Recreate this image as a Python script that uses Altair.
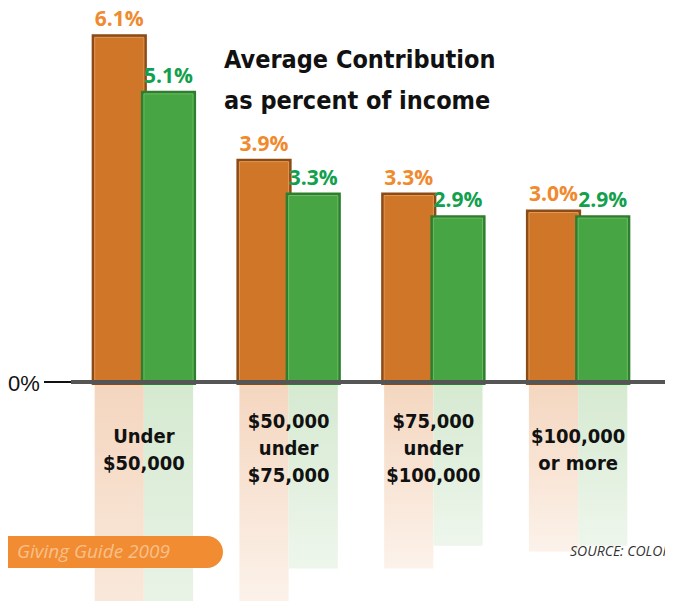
import altair as alt
import pandas as pd

# ---- data ----
categories = ["Under\n$50,000", "$50,000\nunder\n$75,000", "$75,000\nunder\n$100,000", "$100,000\nor more"]
series = ["Series A", "Series B"]
values_a = [6.1, 3.9, 3.3, 3.0]
values_b = [5.1, 3.3, 2.9, 2.9]
title_lines = ["Average Contribution", "as percent of income"]
y_tick_labels = ["0%"]
banner_text = ["Giving Guide 2009"]
source_text = ["SOURCE: COLORADO NONPROFIT ASSOCIATION"]

rows = []
for s, vals in zip(series, [values_a, values_b]):
    for c, v in zip(categories, vals):
        rows.append({"category": c, "series": s, "value": v, "neg": -v,
                     "label": f"{v:.1f}%"})
df = pd.DataFrame(rows)

W, H = 657, 593
xs = alt.X("category:N", sort=categories, axis=None,
           scale=alt.Scale(domain=categories, range=[63.5, 642.5],
                           paddingInner=0.32, paddingOuter=0.16))
xo = alt.XOffset("series:N", sort=series,
                 scale=alt.Scale(domain=series, paddingInner=0, paddingOuter=0))
yscale = alt.Scale(domain=[-3.876, 6.619], nice=False, zero=False)

styles = {
    "Series A": dict(main="#D07628", dark="#8C4A15", edge="#E39A55",
                     text="#F08A2E", r0="#F4D6BF", r1="#FCF2EA"),
    "Series B": dict(main="#47A543", dark="#2E7E30", edge="#6DBE63",
                     text="#12A04C", r0="#D5E9D0", r1="#EEF6EC"),
}

layers = []
for s in series:
    st = styles[s]
    base = alt.Chart(df).transform_filter(alt.datum.series == s)
    yv = alt.Y("value:Q", scale=yscale, axis=None)
    yn = alt.Y("neg:Q", scale=yscale, axis=None)
    # reflection (fading)
    layers.append(base.mark_bar(color=alt.Gradient(
        gradient="linear", x1=0, y1=0, x2=0, y2=1,
        stops=[alt.GradientStop(color=st["r0"], offset=0),
               alt.GradientStop(color=st["r1"], offset=1)])).encode(
        x=xs, xOffset=xo, y=yn, y2=alt.datum(0)))
    # 3D shadow edge
    layers.append(base.mark_bar(color=st["dark"], stroke=st["dark"], strokeWidth=6).encode(
        x=xs, xOffset=xo, y=yv, y2=alt.datum(0)))
    # main bar
    layers.append(base.mark_bar(color=st["main"], stroke=st["edge"], strokeWidth=1).encode(
        x=xs, xOffset=xo, y=yv, y2=alt.datum(0)))
    # value labels
    layers.append(base.mark_text(dy=-11, baseline="alphabetic", align="center",
                                 font="Open Sans", fontWeight="bold", fontSize=21,
                                 color=st["text"]).encode(
        x=xs, xOffset=xo, y=yv, text="label:N"))

# baseline axis line
axis_df = pd.DataFrame({"t": y_tick_labels})
layers.append(alt.Chart(axis_df).mark_rule(color="#111111", strokeWidth=2).encode(
    x=alt.value(36), x2=alt.value(64), y=alt.datum(0)))
layers.append(alt.Chart(axis_df).mark_rule(color="#555555", strokeWidth=4).encode(
    x=alt.value(63), x2=alt.value(700), y=alt.datum(0)))
layers.append(alt.Chart(axis_df).mark_text(align="left", baseline="middle", dy=2,
                                           font="Liberation Sans", fontSize=22,
                                           color="#111111").encode(
    x=alt.value(0), y=alt.Y(datum=0, scale=yscale), text="t:N"))

# category labels (first line positioned so each block is centred)
cat_df = pd.DataFrame({"category": categories})
cat_font = dict(baseline="middle", align="center", lineBreak="\n", lineHeight=27,
                font="DejaVu Sans Condensed, Liberation Sans Narrow, DejaVu Sans",
                fontWeight="bold", fontSize=20, color="#111111")
cat_base = alt.Chart(cat_df).transform_calculate(
    nl="length(split(datum.category, '\\n'))")
layers.append(cat_base.transform_filter("datum.nl == 2").mark_text(**cat_font).encode(
    x=xs, y=alt.value(429), text="category:N"))
layers.append(cat_base.transform_filter("datum.nl == 3").mark_text(**cat_font).encode(
    x=xs, y=alt.value(414), text="category:N"))

# title
title_df = pd.DataFrame({"t": ["\n".join(title_lines)]})
layers.append(alt.Chart(title_df).mark_text(
    align="left", baseline="middle", lineBreak="\n", lineHeight=41,
    font="DejaVu Sans Condensed, Liberation Sans Narrow, DejaVu Sans",
    fontWeight="bold", fontSize=25, color="#111111").encode(
    x=alt.value(216), y=alt.value(52), text="t:N"))

# banner
ban_df = pd.DataFrame({"t": banner_text})
layers.append(alt.Chart(ban_df).mark_rect(color="#F28C32", cornerRadius=16).encode(
    x=alt.value(-40), x2=alt.value(215), y=alt.value(528), y2=alt.value(560)))
layers.append(alt.Chart(ban_df).mark_text(
    align="left", baseline="middle", font="Open Sans", fontStyle="italic",
    fontSize=19, color="#F9C08A").encode(
    x=alt.value(9), y=alt.value(544), text="t:N"))
src_df = pd.DataFrame({"t": source_text})
layers.append(alt.Chart(src_df).mark_text(
    align="left", baseline="middle", font="Open Sans", fontStyle="italic",
    fontSize=14, color="#333333").encode(
    x=alt.value(562), y=alt.value(544), text="t:N"))

chart = alt.layer(*layers).properties(
    width=W, height=H, padding=0,
    autosize=alt.AutoSizeParams(type="none"),
).configure_view(stroke=None)

chart.save("out.html", embed_options={"renderer": "svg", "actions": False})
